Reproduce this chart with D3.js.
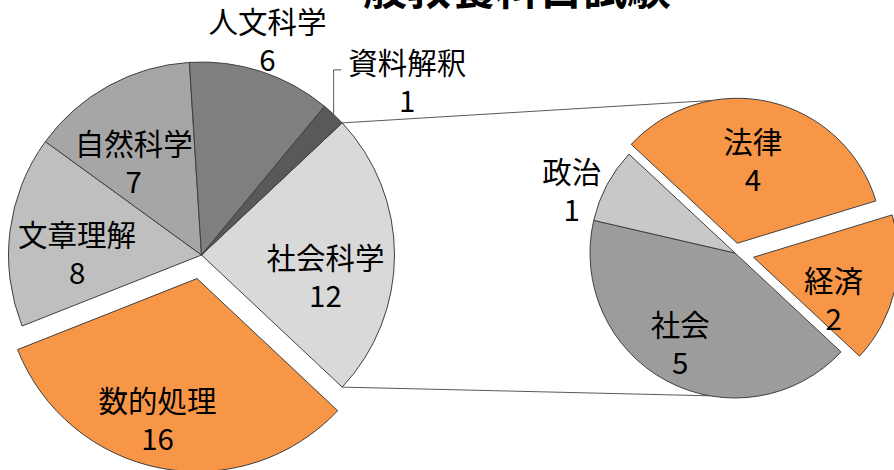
<!DOCTYPE html>
<html>
<head>
<meta charset="utf-8">
<script src="https://cdn.jsdelivr.net/npm/d3@7"></script>
<style>
  body { margin: 0; background: #fff; }
  svg { display: block; }
  text { font-family: "Noto Sans CJK JP", "Noto Sans", sans-serif; fill: #000; }
</style>
</head>
<body>
<svg id="chart"></svg>
<script>
// data
let title = "一般教養科目試験";
let mainNames = ["社会科学", "数的処理", "文章理解", "自然科学", "人文科学", "資料解釈"];
let mainValues = [12, 16, 8, 7, 6, 1];
let subNames = ["社会", "政治", "法律", "経済"];
let subValues = [5, 1, 4, 2];

let width = 894, height = 470;
let deg = Math.PI / 180;

let colors = {
    "社会科学": "#d9d9d9", "数的処理": "#f79646", "文章理解": "#bfbfbf",
    "自然科学": "#a6a6a6", "人文科学": "#7f7f7f", "資料解釈": "#595959",
    "社会": "#9c9c9c", "政治": "#c8c8c8", "法律": "#f79646", "経済": "#f79646"
};
// explode distance in px
let explode = {"数的処理": 24, "法律": 10, "経済": 19};
// label placement: fraction of radius, angle tweak in degrees
let labelPos = {
    "社会科学": [0.65, 9], "数的処理": [0.75, 5], "文章理解": [0.645, -5.6],
    "自然科学": [0.6, -7], "人文科学": [1.17, -1], "資料解釈": [1.4, 6.4],
    "法律": [0.59, -2.5], "経済": [0.62, 14], "社会": [0.72, 3.7], "政治": [1.21, -6.5]
};
let lineGap = 38;
let labelSize = "29.5px";

let svg = d3.select("#chart").attr("width", width).attr("height", height);

let main = {cx: 201.5, cy: 255, r: 193};
let sub = {cx: 735, cy: 253, r: 145};

let mainTotal = d3.sum(mainValues);
let splitShare = mainValues[0] / mainTotal;
let mainStart = Math.PI / 2 - splitShare * Math.PI;

let mainPie = d3.pie().sort(null).startAngle(mainStart).endAngle(mainStart + 2 * Math.PI);
let subStart = 133 * deg;
let subPie = d3.pie().sort(null).startAngle(subStart).endAngle(subStart + 2 * Math.PI);

let mainArcs = mainPie(mainValues).map((d, i) => Object.assign(d, {name: mainNames[i]}));
let subArcs = subPie(subValues).map((d, i) => Object.assign(d, {name: subNames[i]}));

function offsetOf(d) {
    let e = explode[d.name] || 0;
    let a = (d.startAngle + d.endAngle) / 2;
    return [e * Math.sin(a), -e * Math.cos(a)];
}

// connector lines from the split slice to the second pie
let split = mainArcs[0];
let lawArc = subArcs[2];
let lawOff = offsetOf(lawArc);
let topA = -10 * deg, botA = 190 * deg;
let connectors = [
    [[main.cx + main.r * Math.sin(split.startAngle), main.cy - main.r * Math.cos(split.startAngle)],
     [sub.cx + lawOff[0] + sub.r * Math.sin(topA), sub.cy + lawOff[1] - sub.r * Math.cos(topA)]],
    [[main.cx + main.r * Math.sin(split.endAngle), main.cy - main.r * Math.cos(split.endAngle)],
     [sub.cx + sub.r * Math.sin(botA), sub.cy - sub.r * Math.cos(botA)]]
];
svg.selectAll(".connector")
    .data(connectors)
    .enter()
    .append("line")
    .classed("connector", true)
    .attr("x1", d => d[0][0]).attr("y1", d => d[0][1])
    .attr("x2", d => d[1][0]).attr("y2", d => d[1][1])
    .attr("stroke", "#595959")
    .attr("stroke-width", 1);

function drawPie(arcs, p, cls) {
    let arc = d3.arc().innerRadius(0).outerRadius(p.r);
    let g = svg.append("g").attr("transform", "translate(" + p.cx + "," + p.cy + ")");

    g.selectAll("." + cls)
        .data(arcs)
        .enter()
        .append("path")
        .classed(cls, true)
        .attr("transform", d => {
            let o = offsetOf(d);
            return "translate(" + o[0] + "," + o[1] + ")";
        })
        .attr("d", arc)
        .attr("fill", d => colors[d.name])
        .attr("stroke", "#404040")
        .attr("stroke-width", 1)
        .attr("stroke-linejoin", "round");

    let labels = g.selectAll("." + cls + "_label")
        .data(arcs)
        .enter()
        .append("g")
        .classed(cls + "_label", true)
        .attr("transform", d => {
            let o = offsetOf(d);
            let lp = labelPos[d.name];
            let a = (d.startAngle + d.endAngle) / 2 + lp[1] * deg;
            let x = o[0] + lp[0] * p.r * Math.sin(a);
            let y = o[1] - lp[0] * p.r * Math.cos(a);
            d.lx = x; d.ly = y;
            return "translate(" + x + "," + y + ")";
        });
    labels.append("text")
        .attr("text-anchor", "middle")
        .attr("dominant-baseline", "central")
        .attr("y", -lineGap / 2)
        .style("font-size", labelSize)
        .text(d => d.name);
    labels.append("text")
        .attr("text-anchor", "middle")
        .attr("dominant-baseline", "central")
        .attr("y", lineGap / 2)
        .style("font-size", labelSize)
        .text(d => d.value);
    return g;
}

let mainG = drawPie(mainArcs, main, "main_slice");
drawPie(subArcs, sub, "sub_slice");

// leader line for the small slice
let small = mainArcs[5];
let sa = (small.startAngle + small.endAngle) / 2;
let px = main.r * Math.sin(sa), py = -main.r * Math.cos(sa);
let ly = small.ly - 10;
mainG.append("polyline")
    .attr("points", [[px, py + 1], [px, ly], [small.lx - 66, ly]].map(d => d.join(",")).join(" "))
    .attr("fill", "none")
    .attr("stroke", "#595959")
    .attr("stroke-width", 1);

// title sits partly above the top edge, as in the reference
svg.append("text")
    .attr("x", 495)
    .attr("y", 5)
    .attr("text-anchor", "middle")
    .style("font-size", "44px")
    .style("font-weight", "bold")
    .text(title);
</script>
</body>
</html>
